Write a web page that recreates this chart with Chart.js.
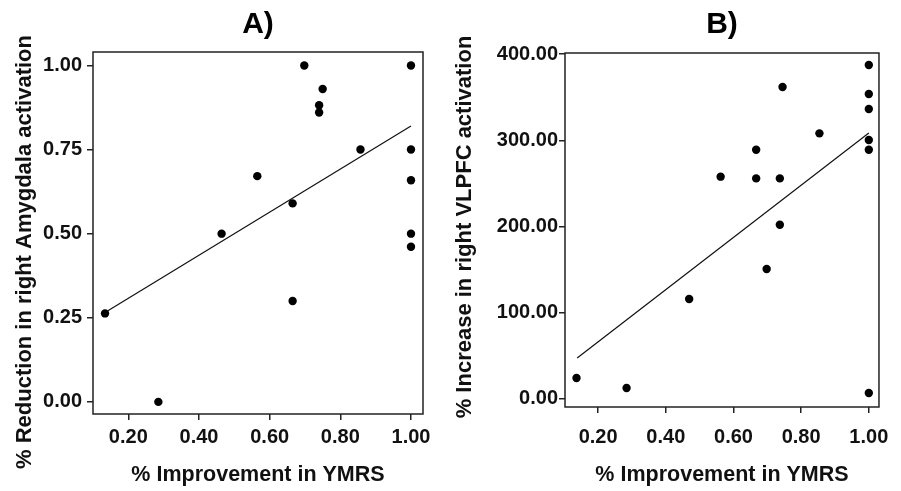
<!DOCTYPE html>
<html>
<head>
<meta charset="utf-8">
<script src="https://cdn.jsdelivr.net/npm/chart.js@4/dist/chart.umd.min.js"></script>
<style>
  body { margin: 0; background: #fff; }
  #wrap { position: relative; width: 901px; height: 491px; }
  canvas { position: absolute; top: 0; }
  #chartA { left: 0; }
  #chartB { left: 450px; }
</style>
</head>
<body>
<div id="wrap">
  <canvas id="chartA" width="450" height="491"></canvas>
  <canvas id="chartB" width="451" height="491"></canvas>
</div>
<script>
// panel A: % improvement in YMRS vs % reduction in right amygdala activation
const xA = [0.134, 0.285, 0.464, 0.565, 0.665, 0.665, 0.698, 0.740, 0.740, 0.750, 0.857, 1.0, 1.0, 1.0, 1.0, 1.0];
const yA = [0.263, 0.00, 0.50, 0.671, 0.590, 0.300, 1.00, 0.882, 0.860, 0.930, 0.75, 1.00, 0.75, 0.659, 0.50, 0.461];
const fitXA = [0.134, 1.0];
const fitYA = [0.266, 0.820];

// panel B: % improvement in YMRS vs % increase in right VLPFC activation
const xB = [0.136, 0.284, 0.469, 0.562, 0.667, 0.667, 0.698, 0.737, 0.737, 0.745, 0.854, 1.0, 1.0, 1.0, 1.0, 1.0, 1.0];
const yB = [24.3, 12.8, 115.9, 257.8, 289, 255.8, 150.7, 255.8, 202, 361.7, 308, 387.2, 353.6, 336.2, 300.3, 289, 7];
const fitXB = [0.138, 1.0];
const fitYB = [47.5, 308.4];

const xTicks = [0.2, 0.4, 0.6, 0.8, 1.0];
const yTicksA = [0, 0.25, 0.5, 0.75, 1.0];
const yTicksB = [0, 100, 200, 300, 400];

Chart.defaults.font.family = '"Liberation Sans", Arial, sans-serif';
Chart.defaults.color = '#111';

// box round the plot area + y title (drawn here so it can sit off-centre like the original)
const frame = {
    id: 'frame',
    afterDatasetsDraw(chart, args, opts) {
        const a = chart.chartArea;
        const ctx = chart.ctx;
        ctx.save();
        ctx.strokeStyle = '#222';
        ctx.lineWidth = 1.5;
        ctx.strokeRect(a.left, a.top, a.right - a.left, a.bottom - a.top);

        const y = chart.scales.y;
        ctx.translate(y.left + opts.titleX, (a.top + a.bottom) / 2 + opts.shift);
        ctx.rotate(-Math.PI / 2);
        ctx.fillStyle = '#111';
        ctx.font = 'bold 22px "Liberation Sans", Arial, sans-serif';
        ctx.textAlign = 'center';
        ctx.textBaseline = 'middle';
        ctx.fillText(opts.text, 0, 0);
        ctx.restore();
    }
};

const toPts = (xs, ys) => xs.map((x, i) => ({ x: x, y: ys[i] }));

function makeChart(id, cfg) {
    return new Chart(document.getElementById(id), {
        type: 'scatter',
        data: {
            datasets: [
                {
                    data: toPts(cfg.xs, cfg.ys),
                    backgroundColor: '#000',
                    borderWidth: 0,
                    pointRadius: 4.2
                },
                {
                    type: 'line',
                    data: toPts(cfg.fitX, cfg.fitY),
                    borderColor: '#111',
                    borderWidth: 1.2,
                    pointRadius: 0,
                    fill: false
                }
            ]
        },
        options: {
            responsive: false,
            animation: false,
            events: [],
            layout: { padding: { left: 0, right: cfg.padRight, top: 0, bottom: 0 } },
            plugins: {
                legend: { display: false },
                tooltip: { enabled: false },
                title: {
                    display: true,
                    fullSize: false,
                    text: cfg.title,
                    color: '#000',
                    font: { size: 30, weight: 'bold' },
                    padding: { top: 7, bottom: cfg.titleBottom }
                },
                frame: { text: cfg.yTitle, titleX: cfg.yTitleX, shift: cfg.yTitleShift }
            },
            scales: {
                x: {
                    type: 'linear',
                    min: cfg.xMin,
                    max: cfg.xMax,
                    afterBuildTicks: s => { s.ticks = xTicks.map(v => ({ value: v })); },
                    afterFit: s => { s.height = cfg.xHeight; },
                    grid: { drawOnChartArea: false, drawTicks: true, tickLength: 6, color: '#222', lineWidth: 1.5 },
                    border: { display: false },
                    ticks: {
                        padding: cfg.xTickPad,
                        maxRotation: 0,
                        autoSkip: false,
                        color: '#111',
                        font: { size: 20, weight: 'bold' },
                        callback: v => v.toFixed(2)
                    },
                    title: {
                        display: true,
                        text: '% Improvement in YMRS',
                        color: '#111',
                        font: { size: 21.5, weight: 'bold' },
                        padding: { top: 0, bottom: 3 }
                    }
                },
                y: {
                    type: 'linear',
                    min: cfg.yMin,
                    max: cfg.yMax,
                    afterBuildTicks: s => { s.ticks = cfg.yTicks.map(v => ({ value: v })); },
                    afterFit: s => { s.width = cfg.yWidth; },
                    grid: { drawOnChartArea: false, drawTicks: true, tickLength: 6, color: '#222', lineWidth: 1.5 },
                    border: { display: false },
                    ticks: {
                        padding: cfg.yTickPad,
                        autoSkip: false,
                        color: '#111',
                        font: { size: 20, weight: 'bold' },
                        callback: v => v.toFixed(2)
                    },
                    title: { display: false }
                }
            }
        },
        plugins: [frame]
    });
}

makeChart('chartA', {
    title: 'A)',
    xs: xA, ys: yA, fitX: fitXA, fitY: fitYA,
    xMin: 0.10, xMax: 1.034,
    yMin: -0.036, yMax: 1.04,
    yTicks: yTicksA,
    yTitle: '% Reduction in right Amygdala activation',
    yTitleX: 25, yTitleShift: 19,
    titleBottom: 9,
    xHeight: 77, xTickPad: 5,
    yWidth: 93, yTickPad: 5,
    padRight: 27
});

makeChart('chartB', {
    title: 'B)',
    xs: xB, ys: yB, fitX: fitXB, fitY: fitYB,
    xMin: 0.102, xMax: 1.03,
    yMin: -9.3, yMax: 401.2,
    yTicks: yTicksB,
    yTitle: '% Increase in right VLPFC activation',
    yTitleX: 15, yTitleShift: -3,
    titleBottom: 10,
    xHeight: 84, xTickPad: 12,
    yWidth: 115, yTickPad: 1,
    padRight: 13
});
</script>
</body>
</html>
